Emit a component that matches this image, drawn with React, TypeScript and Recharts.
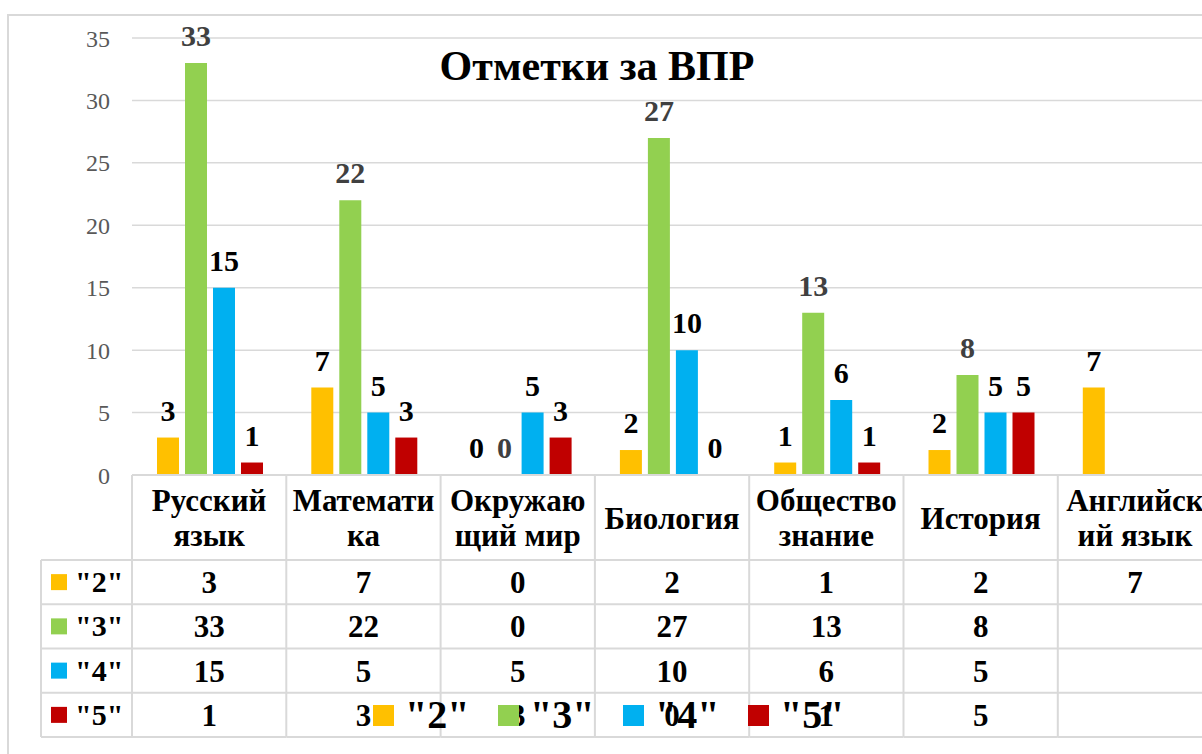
import React from "react";
import { BarChart, Bar, XAxis, YAxis, CartesianGrid, LabelList, Legend } from "recharts";

const categories = [
  "Русский язык",
  "Математика",
  "Окружающий мир",
  "Биология",
  "Обществознание",
  "История",
  "Английский язык",
];
// how the category names wrap inside the table header cells
const headerLines = [
  ["Русский", "язык"],
  ["Математи", "ка"],
  ["Окружаю", "щий мир"],
  ["Биология"],
  ["Общество", "знание"],
  ["История"],
  ["Английск", "ий язык"],
];
const grade2 = [3, 7, 0, 2, 1, 2, 7];
const grade3 = [33, 22, 0, 27, 13, 8, null];
const grade4 = [15, 5, 5, 10, 6, 5, null];
const grade5 = [1, 3, 3, 0, 1, 5, null];
const seriesNames = ['"2"', '"3"', '"4"', '"5"'];
const seriesKeys = ["g2", "g3", "g4", "g5"];
const seriesColors = ["#FFC000", "#92D050", "#00B0F0", "#C00000"];
const labelColors = ["#000000", "#404040", "#000000", "#000000"];
const yTicks = [0, 5, 10, 15, 20, 25, 30, 35];

const seriesValues = [grade2, grade3, grade4, grade5];
const data = categories.map((name, i) => ({
  name,
  g2: grade2[i],
  g3: grade3[i],
  g4: grade4[i],
  g5: grade5[i],
}));

const FONT = "'Liberation Serif', 'Times New Roman', serif";
const LINE = "#d9d9d9";
const CHART_W = 1260;
const CHART_H = 760;
const PLOT_LEFT = 132;
const PLOT_TOP = 38;
const PLOT_BOTTOM = 475;
const COL_W = 154.3;
const PLOT_RIGHT = PLOT_LEFT + COL_W * categories.length;
const Y_AXIS_W = 60;
const X_AXIS_H = 270;
const TABLE_LEFT = 41;
const HEADER_BOTTOM = 560;
const ROW_H = 44.25;
const TABLE_BOTTOM = HEADER_BOTTOM + ROW_H * 4;

function RowHeaders() {
  return (
    <g>
      <line x1={TABLE_LEFT} x2={TABLE_LEFT} y1={HEADER_BOTTOM} y2={TABLE_BOTTOM} stroke={LINE} strokeWidth={2} />
      <line x1={PLOT_LEFT} x2={PLOT_LEFT} y1={PLOT_BOTTOM} y2={TABLE_BOTTOM} stroke={LINE} strokeWidth={2} />
      {[0, 1, 2, 3, 4].map((r) => (
        <line
          key={r}
          x1={TABLE_LEFT}
          x2={PLOT_LEFT}
          y1={HEADER_BOTTOM + r * ROW_H}
          y2={HEADER_BOTTOM + r * ROW_H}
          stroke={LINE}
          strokeWidth={2}
        />
      ))}
      {seriesNames.map((s, r) => {
        const cy = HEADER_BOTTOM + r * ROW_H + ROW_H / 2;
        return (
          <g key={s}>
            <rect x={51} y={cy - 8} width={16} height={16} fill={seriesColors[r]} />
            <text x={75} y={cy + 10} fontSize={30} fontWeight="bold" fontFamily={FONT} fill="#000">
              {s}
            </text>
          </g>
        );
      })}
    </g>
  );
}

function TableTick(props: any) {
  const { x, index } = props;
  const left = x - COL_W / 2;
  const right = x + COL_W / 2;
  const lines = headerLines[index];
  const headerMid = (PLOT_BOTTOM + HEADER_BOTTOM) / 2;
  const gap = 35;
  const firstBase = headerMid + 11 - ((lines.length - 1) * gap) / 2;
  return (
    <g>
      {index === 0 && <RowHeaders />}
      <line x1={left} x2={right} y1={PLOT_BOTTOM} y2={PLOT_BOTTOM} stroke={LINE} strokeWidth={2} />
      <line x1={right} x2={right} y1={PLOT_BOTTOM} y2={TABLE_BOTTOM} stroke={LINE} strokeWidth={2} />
      {[0, 1, 2, 3, 4].map((r) => (
        <line
          key={r}
          x1={left}
          x2={right}
          y1={HEADER_BOTTOM + r * ROW_H}
          y2={HEADER_BOTTOM + r * ROW_H}
          stroke={LINE}
          strokeWidth={2}
        />
      ))}
      <text textAnchor="middle" fontSize={31} fontWeight="bold" fontFamily={FONT} fill="#000">
        {lines.map((l, k) => (
          <tspan key={k} x={x} y={firstBase + k * gap}>
            {l}
          </tspan>
        ))}
      </text>
      {seriesValues.map((vals, r) =>
        vals[index] == null ? null : (
          <text
            key={r}
            x={x}
            y={HEADER_BOTTOM + r * ROW_H + ROW_H / 2 + 11}
            textAnchor="middle"
            fontSize={31}
            fontWeight="bold"
            fontFamily={FONT}
            fill="#000"
          >
            {vals[index]}
          </text>
        )
      )}
    </g>
  );
}

const makeLabel = (color: string) => (p: any) => {
  const { x, y, width, value } = p;
  if (value == null) return null;
  return (
    <text
      x={Number(x) + Number(width) / 2}
      y={Number(y) - 17}
      textAnchor="middle"
      fontSize={30}
      fontWeight="bold"
      fontFamily={FONT}
      fill={color}
    >
      {value}
    </text>
  );
};

function LegendContent() {
  return (
    <div style={{ display: "flex", alignItems: "center", height: 40 }}>
      {seriesNames.map((s, i) => (
        <div key={s} style={{ display: "flex", alignItems: "center", width: 125 }}>
          <div style={{ width: 21, height: 21, background: seriesColors[i], marginRight: 11 }} />
          <span style={{ fontFamily: FONT, fontWeight: "bold", fontSize: 40, lineHeight: 1, color: "#000" }}>{s}</span>
        </div>
      ))}
    </div>
  );
}

export default function App() {
  return (
    <div
      style={{
        position: "absolute",
        left: 0,
        top: 0,
        width: 1202,
        height: 754,
        overflow: "hidden",
        background: "#fff",
      }}
    >
      <div
        style={{
          position: "absolute",
          left: 7,
          top: 14,
          width: 1400,
          height: 900,
          border: `2px solid ${LINE}`,
        }}
      />
      <div style={{ position: "absolute", left: 0, top: 0 }}>
        <BarChart
          width={CHART_W}
          height={CHART_H}
          data={data}
          margin={{
            top: PLOT_TOP,
            left: PLOT_LEFT - Y_AXIS_W,
            right: CHART_W - PLOT_RIGHT,
            bottom: CHART_H - PLOT_BOTTOM - X_AXIS_H,
          }}
          barGap={6}
          barCategoryGap={25}
        >
          <CartesianGrid vertical={false} stroke={LINE} strokeWidth={1.5} />
          <XAxis
            dataKey="name"
            height={X_AXIS_H}
            interval={0}
            axisLine={false}
            tickLine={false}
            tick={(p: any) => <TableTick {...p} />}
          />
          <YAxis
            width={Y_AXIS_W}
            domain={[0, 35]}
            ticks={yTicks}
            axisLine={false}
            tickLine={false}
            tickSize={0}
            tickMargin={22}
            tick={{ fill: "#595959", fontSize: 24, fontFamily: FONT }}
          />
          <Legend
            layout="horizontal"
            verticalAlign="middle"
            align="center"
            wrapperStyle={{ left: 373, top: 695, width: 520, height: 40 }}
            content={() => <LegendContent />}
          />
          {seriesKeys.map((k, i) => (
            <Bar
              key={k}
              dataKey={k}
              name={seriesNames[i]}
              fill={seriesColors[i]}
              minPointSize={0.01}
              isAnimationActive={false}
            >
              <LabelList dataKey={k} content={makeLabel(labelColors[i])} />
            </Bar>
          ))}
        </BarChart>
      </div>
      <div
        style={{
          position: "absolute",
          left: 347,
          width: 500,
          top: 45,
          textAlign: "center",
          fontFamily: FONT,
          fontWeight: "bold",
          fontSize: 42,
          lineHeight: 1,
          color: "#000",
        }}
      >
        Отметки за ВПР
      </div>
    </div>
  );
}
